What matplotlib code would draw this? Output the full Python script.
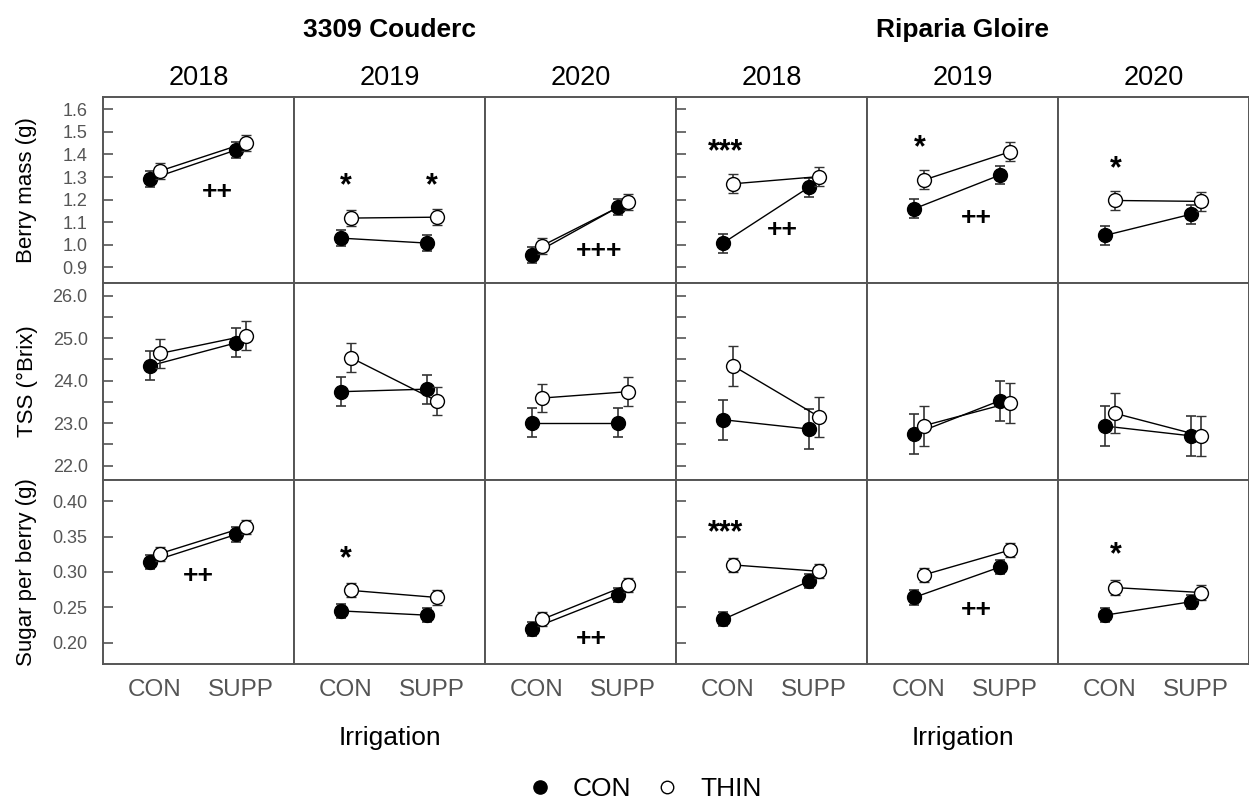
import matplotlib
matplotlib.use("Agg")
import matplotlib.pyplot as plt
from matplotlib.lines import Line2D
from matplotlib.transforms import offset_copy
import numpy as np

plt.rcParams['font.family'] = ['Liberation Sans', 'DejaVu Sans']

# panels: 3309 Couderc 2018-2020, then Riparia Gloire 2018-2020
groups = ['3309 Couderc', 'Riparia Gloire']
years = ['2018', '2019', '2020']
irrigation = ['CON', 'SUPP']

# (CON irrigation, SUPP irrigation) for each panel
berry_con = [(1.290, 1.420), (1.029, 1.007), (0.955, 1.166), (1.007, 1.255), (1.159, 1.309), (1.041, 1.135)]
berry_thin = [(1.327, 1.452), (1.118, 1.122), (0.995, 1.188), (1.270, 1.302), (1.287, 1.412), (1.196, 1.192)]
berry_err = [0.035, 0.035, 0.035, 0.042, 0.042, 0.042]

tss_con = [(24.35, 24.89), (23.74, 23.80), (23.01, 23.01), (23.08, 22.86), (22.74, 23.53), (22.93, 22.70)]
tss_thin = [(24.64, 25.06), (24.54, 23.52), (23.59, 23.74), (24.35, 23.15), (22.94, 23.48), (23.23, 22.70)]
tss_err = [0.34, 0.34, 0.34, 0.47, 0.47, 0.47]

sugar_con = [(0.314, 0.353), (0.245, 0.239), (0.220, 0.268), (0.233, 0.287), (0.264, 0.307), (0.239, 0.258)]
sugar_thin = [(0.326, 0.364), (0.274, 0.264), (0.233, 0.282), (0.310, 0.301), (0.296, 0.331), (0.278, 0.271)]
sugar_err = [0.010] * 6

# significance marks: (row, panel, text, x, y)
marks = [
    (0, 0, '++', 1.72, 1.234),
    (0, 1, '*', 1.0, 1.284), (0, 1, '*', 2.0, 1.284),
    (0, 2, '+++', 1.72, 0.974),
    (0, 3, '***', 0.97, 1.435), (0, 3, '++', 1.63, 1.066),
    (0, 4, '*', 1.01, 1.454), (0, 4, '++', 1.67, 1.118),
    (0, 5, '*', 1.07, 1.358),
    (2, 0, '++', 1.5, 0.294),
    (2, 1, '*', 1.0, 0.326),
    (2, 2, '++', 1.63, 0.206),
    (2, 3, '***', 0.97, 0.362),
    (2, 4, '++', 1.67, 0.246),
    (2, 5, '*', 1.07, 0.331),
]

rows = [
    dict(con=berry_con, thin=berry_thin, err=berry_err, label='Berry mass (g)',
         ylim=(0.83, 1.655), ticks=np.arange(0.9, 1.61, 0.1), minor=None, fmt='{:.1f}'),
    dict(con=tss_con, thin=tss_thin, err=tss_err, label='TSS (°Brix)',
         ylim=(21.66, 26.3), ticks=np.arange(22.0, 26.01, 1.0), minor=np.arange(22.5, 26.0, 1.0), fmt='{:.1f}'),
    dict(con=sugar_con, thin=sugar_thin, err=sugar_err, label='Sugar per berry (g)',
         ylim=(0.170, 0.430), ticks=np.arange(0.20, 0.401, 0.05), minor=None, fmt='{:.2f}'),
]

W, H = 1249, 800
fig = plt.figure(figsize=(W / 100, H / 100), dpi=100)

row_px = [(97, 283), (283, 480), (480, 664)]
left_px, panel_w = 103, 191.0
edge = '#555555'
grey_txt = '#555555'
dodge = 0.058
xs = np.array([1, 2])

axes = {}
for r, spec in enumerate(rows):
    top, bot = row_px[r]
    for p in range(6):
        ax = fig.add_axes([(left_px + p * panel_w) / W, 1 - bot / H, panel_w / W, (bot - top) / H])
        axes[(r, p)] = ax
        for s in ax.spines.values():
            s.set_color(edge)
            s.set_linewidth(1.4)
        e = spec['err'][p]
        ax.errorbar(xs - dodge, spec['con'][p], yerr=e, color='black', lw=1.0, marker='o',
                    ms=10, mfc='black', mec='black', ecolor='#333333', elinewidth=1.2,
                    capsize=3.5, capthick=1.2, zorder=3)
        ax.errorbar(xs + dodge, spec['thin'][p], yerr=e, color='black', lw=1.0, marker='o',
                    ms=10, mfc='white', mec='black', mew=1.0, ecolor='#333333', elinewidth=1.2,
                    capsize=3.5, capthick=1.2, zorder=4)
        ax.set_xticks(xs)
        if r == 2:
            ax.set_xticklabels(irrigation, fontsize=17.5, color=grey_txt)
            ax.tick_params(axis='x', length=0, pad=11)
        else:
            ax.set_xticklabels([])
            ax.tick_params(axis='x', length=0)
        if p in (0, 3):
            ax.set_yticks(spec['ticks'])
            if spec['minor'] is not None:
                ax.set_yticks(spec['minor'], minor=True)
                ax.tick_params(axis='y', which='minor', direction='in', length=7, width=1.2, color=edge)
            ax.tick_params(axis='y', direction='in', length=7, width=1.2, color=edge, pad=11)
            if p == 0:
                ax.set_yticklabels([spec['fmt'].format(t) for t in spec['ticks']], fontsize=13, color=grey_txt)
            else:
                ax.set_yticklabels([])
        else:
            ax.set_yticks([])
        ax.set_xlim(0.395, 2.616)
        ax.set_ylim(*spec['ylim'])

for r, p, txt, x, y in marks:
    ax = axes[(r, p)]
    if '*' in txt:
        # star glyphs sit high in the line box, nudge down to centre the glyph
        tr = offset_copy(ax.transData, fig=fig, x=0, y=-4, units='points')
        ax.text(x, y, txt, transform=tr, ha='center', va='center', fontsize=22,
                fontweight='bold', color='black', zorder=5)
    else:
        ax.text(x, y, txt, ha='center', va='center', fontsize=19, fontweight='bold',
                color='black', zorder=5)

# row labels
for r, spec in enumerate(rows):
    top, bot = row_px[r]
    fig.text(27 / W, 1 - (top + bot) / 2 / H, spec['label'], rotation=90, ha='center',
             va='center', fontsize=16)

# column headers
for g, name in enumerate(groups):
    cx = (left_px + (3 * g + 1.5) * panel_w) / W
    fig.text(cx, 1 - 30 / H, name, ha='center', va='center', fontsize=19, fontweight='bold')
    fig.text(cx, 1 - 738 / H, 'Irrigation', ha='center', va='center', fontsize=19)
    for k, yr in enumerate(years):
        fig.text((left_px + (3 * g + k + 0.5) * panel_w) / W, 1 - 78 / H, yr,
                 ha='center', va='center', fontsize=19.5)

handles = [
    Line2D([], [], ls='none', marker='o', ms=9.5, mfc='black', mec='black'),
    Line2D([], [], ls='none', marker='o', ms=9, mfc='white', mec='black'),
]
fig.legend(handles, ['CON', 'THIN'], loc='center', bbox_to_anchor=(644 / W, 1 - 789 / H),
           ncol=2, frameon=False, fontsize=19, handlelength=1.0, handletextpad=0.75,
           columnspacing=0.85)

fig.savefig('out.png', dpi=100)
